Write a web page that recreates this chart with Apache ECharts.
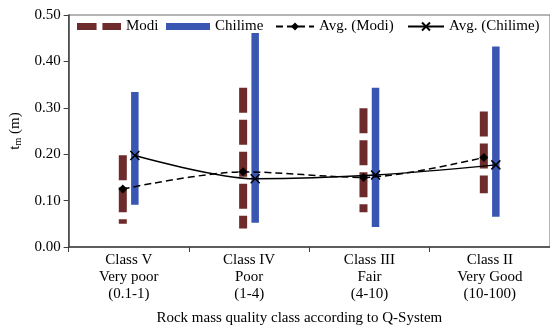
<!DOCTYPE html>
<html>
<head>
<meta charset="utf-8">
<script src="https://cdn.jsdelivr.net/npm/echarts@6/dist/echarts.min.js"></script>
<style>
  html, body { margin: 0; padding: 0; background: #fff; }
  #chart { width: 550px; height: 331px; }
</style>
</head>
<body>
<div id="chart"></div>
<script>
// Rock mass classes (Q-System) on the horizontal axis
const categories = [
  'Class V\nVery poor\n(0.1-1)',
  'Class IV\nPoor\n(1-4)',
  'Class III\nFair\n(4-10)',
  'Class II\nVery Good\n(10-100)'
];
const yTicks = [0, 0.1, 0.2, 0.3, 0.4, 0.5];

// Range of t_m (m) per class, low and high ends
const modiLow = [0.050, 0.040, 0.075, 0.116];
const modiHigh = [0.198, 0.343, 0.299, 0.292];
const chilimeLow = [0.091, 0.052, 0.043, 0.065];
const chilimeHigh = [0.334, 0.461, 0.343, 0.432];

// Average t_m (m) per class
const modiAvg = [0.125, 0.162, 0.150, 0.193];
const chilimeAvg = [0.197, 0.147, 0.155, 0.177];

const MODI_COLOR = '#6e2b2c';
const CHILIME_COLOR = '#3a56b3';
const FONT = "'Liberation Serif', 'Times New Roman', serif";
const SHIFT = 0.05; // side-by-side placement within each class

const rangeData = (lo, hi, dx) => lo.map((v, i) => [i + dx, v, hi[i]]);
const avgData = (vals, dx) => vals.map((v, i) => [i + dx, v]);

function rangeRenderer(width, dash) {
  return function (params, api) {
    const x = api.value(0);
    const top = api.coord([x, api.value(2)]);
    const bottom = api.coord([x, api.value(1)]);
    return {
      type: 'line',
      shape: { x1: top[0], y1: top[1], x2: bottom[0], y2: bottom[1] },
      style: {
        stroke: api.visual('color'),
        lineWidth: width,
        lineDash: dash,
        lineCap: 'butt'
      }
    };
  };
}

const legendText = { fontFamily: FONT, fontSize: 15, color: '#000' };

const chart = echarts.init(document.getElementById('chart'));
chart.setOption({
  animation: false,
  backgroundColor: '#fff',
  grid: {
    left: 67, right: -4, top: 15, bottom: 82,
    show: true, borderColor: '#6b6b6b', borderWidth: 1
  },
  legend: [
    {
      data: [{ name: 'Modi', icon: 'path://M0,0H20V1H0Z M26,0H45V1H26Z' }],
      left: 72, top: 14, itemWidth: 44, itemHeight: 7,
      symbolKeepAspect: false, textStyle: legendText
    },
    {
      data: [{ name: 'Chilime', icon: 'rect' }],
      left: 161, top: 14, itemWidth: 44, itemHeight: 7,
      textStyle: legendText
    },
    {
      data: ['Avg. (Modi)'],
      left: 270, top: 14, itemWidth: 38, itemHeight: 10,
      textStyle: legendText
    },
    {
      data: ['Avg. (Chilime)'],
      left: 402, top: 14, itemWidth: 36, itemHeight: 10,
      textStyle: legendText
    }
  ],
  xAxis: [
    {
      type: 'category',
      data: categories,
      boundaryGap: true,
      axisLine: { lineStyle: { color: '#404040', width: 1.5 } },
      axisTick: { show: true, length: 5, lineStyle: { color: '#404040' } },
      axisLabel: {
        fontFamily: FONT, fontSize: 15, color: '#000',
        lineHeight: 17, margin: 5, interval: 0
      },
      name: 'Rock mass quality class according to Q-System',
      nameLocation: 'middle',
      nameGap: 64,
      nameTextStyle: { fontFamily: FONT, fontSize: 15, color: '#000', padding: [0, 20, 0, 0] }
    },
    {
      type: 'value',
      min: -0.5, max: 3.5,
      show: false
    }
  ],
  yAxis: {
    type: 'value',
    min: yTicks[0], max: yTicks[yTicks.length - 1], interval: 0.1,
    axisLine: { show: true, onZero: false, lineStyle: { color: '#404040', width: 1.5 } },
    axisTick: { show: true, length: 5, lineStyle: { color: '#404040' } },
    splitLine: { show: false },
    axisLabel: {
      fontFamily: FONT, fontSize: 15, color: '#000', margin: 8,
      formatter: v => v.toFixed(2)
    },
    name: 't{sub|m} (m)',
    nameLocation: 'middle',
    nameGap: 35,
    nameRotate: 90,
    nameTextStyle: {
      fontFamily: FONT, fontSize: 15, color: '#000',
      rich: {
        sub: { fontFamily: FONT, fontSize: 10, color: '#000', padding: [6, 0, 0, 0] }
      }
    }
  },
  series: [
    {
      name: 'Modi',
      type: 'custom',
      xAxisIndex: 1,
      itemStyle: { color: MODI_COLOR },
      renderItem: rangeRenderer(8, [25, 7]),
      data: rangeData(modiLow, modiHigh, -SHIFT),
      z: 2
    },
    {
      name: 'Chilime',
      type: 'custom',
      xAxisIndex: 1,
      itemStyle: { color: CHILIME_COLOR },
      renderItem: rangeRenderer(7.5, null),
      data: rangeData(chilimeLow, chilimeHigh, SHIFT),
      z: 2
    },
    {
      name: 'Avg. (Modi)',
      type: 'line',
      xAxisIndex: 1,
      smooth: 0.3,
      symbol: 'diamond',
      symbolSize: 9,
      itemStyle: { color: '#000' },
      lineStyle: { color: '#000', width: 1.5, type: [7, 4] },
      data: avgData(modiAvg, -SHIFT),
      z: 5
    },
    {
      name: 'Avg. (Chilime)',
      type: 'line',
      xAxisIndex: 1,
      smooth: 0.3,
      symbol: 'path://M0,0L10,10M10,0L0,10',
      symbolSize: 9,
      itemStyle: { color: 'none', borderColor: '#000', borderWidth: 1.5 },
      lineStyle: { color: '#000', width: 1.5 },
      data: avgData(chilimeAvg, SHIFT),
      z: 5
    }
  ]
});
</script>
</body>
</html>
